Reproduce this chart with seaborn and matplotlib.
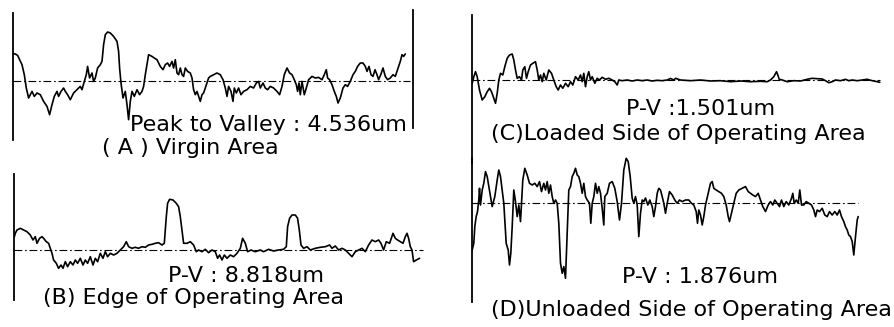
import matplotlib
matplotlib.use("Agg")
import matplotlib.pyplot as plt
import seaborn as sns
import pandas as pd

# ---------------- data (profile position, height) ----------------
a_pos = [0, 2, 4.3, 8.7, 11, 13, 15.3, 17, 18.7, 21, 23.7, 27, 30.3, 33.7, 36.3, 38.7, 41, 43.7, 45.3, 47.7,
         50.3, 52, 54.3, 57, 60.3, 63.7, 67, 68.7, 71, 73, 74.3, 76.3, 78.7, 80.3, 82, 84.3, 87, 88.7, 90.3, 92,
         94.3, 97, 100.3, 103.7, 105.3, 106.3, 107.7, 109.7, 112, 113.7, 115.3, 117, 118.7, 121, 123.7, 126.3,
         128.7, 130.3, 132, 133.7, 135.3, 138.7, 141, 143.7, 147, 149.7, 152, 154.3, 156.3, 158.7, 160.3, 162,
         163.7, 165.3, 167, 168.7, 170.3, 172, 174.3, 177, 178.7, 180.3, 182, 183.7, 185.3, 187, 188.7, 190.3,
         193.7, 195.3, 197, 200.3, 203.7, 207, 209.7, 212, 213.7, 215.3, 217.7, 219.7, 221, 223, 225.3, 227.7,
         230.3, 233.7, 237, 240.3, 243, 245.3, 247, 249.7, 252, 254.3, 257, 260.3, 263.7, 266.3, 268.7, 271,
         273.7, 276.3, 278.7, 281, 283, 284.3, 285.7, 287, 288.7, 291, 293, 295.3, 298.7, 302, 305.3, 308.7,
         311, 313, 314.3, 316.3, 318.7, 321, 323, 324.7, 327, 329.7, 332, 334.3, 337, 339.7, 342, 344.3, 347,
         349.7, 352, 353.7, 355.7, 357.7, 359.7, 361.7, 363.7, 365.3, 367.7, 369.7, 372, 374.3, 377, 379.7,
         382, 383.7, 385.3, 387, 388.7, 390.3, 392]
a_height = [27, 26.7, 25.3, 16, 6, -7.3, -17.3, -14, -10.7, -15.7, -12.3, -14, -20.7, -25.7, -34, -24, -15.7,
            -10.7, -15.7, -10.7, -7.3, -10.7, -14, -19, -12.3, -9, -5.7, -9, -0.7, 6, 14.3, 2.7, 7.7, -0.7, 2.7,
            12.7, 16, 19.3, 36, 46, 48.7, 47.7, 44.3, 39.3, 29.3, 12.7, -2.3, -17.3, -10.7, -24, -39, -20.7,
            -10.7, -15.7, -9, -14, -10.7, -5.7, 6, 16, 26, 24.3, 22.7, 21, 14.3, 11, 16, 17.7, 14.3, 19.3, 12.7,
            21, 7.7, 6, 12.7, 6, 4.3, 12.7, 9.3, 7.7, 2.7, -9, -14, -10.7, -15.7, -20.7, -14, -12.3, -2.3, 2.7,
            4.3, 6, 7.7, 6, 1, -7.3, -15.7, -5.7, -10.7, -20.7, -7.3, -12.3, -7.3, -14, -10.7, -9, -5.7, -7.3,
            -2.3, -0.7, -7.3, -2.3, -7.3, -9, -5.7, -7.3, -10.7, -14, -5.7, 6, 12.7, 7.7, 6, 1, -4, -10.7, -2.3,
            -14, -0.7, -14, -7.3, 1, 4.3, 2.7, 3.3, 1, 6, 11, 2.7, 1, -4, -10.7, -15.7, -22.3, -17.3, -7.3, -4,
            -5.7, -0.7, 6, 9.3, 14.3, 17.7, 17.7, 14.3, 9.3, 14.3, 6, 4.3, 11, 6, 1, 6.7, 12.7, 4.3, 1, 2.7, 6,
            4.3, 9.3, 14.3, 19.3, 26, 24.3, 26.7]

b_pos = [0, 1, 2.7, 6, 9.3, 12.7, 16, 18.7, 21, 22.7, 25.3, 27.7, 29.3, 32, 34.3, 36, 37.7, 39.3, 42, 44.3,
         46.7, 48.7, 51, 53.3, 56, 58.7, 61, 63.3, 66, 68.7, 71, 73.3, 76, 78.7, 81, 83.3, 86, 88.7, 91, 93.3,
         96, 99.3, 102.7, 106, 109.3, 112, 114.3, 117.7, 121, 124.3, 127.7, 131, 134.3, 137.7, 141, 144.3,
         147.7, 150, 152, 153.3, 155.3, 158.7, 162, 164.3, 166, 167.7, 169.3, 172.7, 176, 179.3, 182, 184.3,
         187.7, 191, 194.3, 197.7, 201, 203.3, 205.3, 207.7, 210, 212.7, 216, 219.3, 222.7, 226, 228.3, 231,
         233.3, 236.7, 241, 246, 249.3, 254.3, 259.3, 264.3, 269.3, 272, 273.3, 275.3, 277.7, 281, 283.3, 285,
         286.7, 289.3, 292.7, 296, 301, 306, 311, 315.3, 317.7, 321, 324.3, 327.7, 331, 334.3, 337.7, 341,
         344.3, 347.7, 351, 354.3, 357.7, 361, 364.3, 366.7, 369.3, 372, 375.3, 378.7, 381, 383.3, 386, 388.7,
         391, 392.7, 394.3, 396, 397.7, 399.3, 402, 405.3]
b_height = [13, 16.7, 20, 21.7, 20, 18.3, 15, 10, 13.3, 6.7, 11.7, 13.3, 11.7, 8.3, 6.7, 1.7, -3.3, -10, -13.3,
            -18.3, -15, -18.3, -11.7, -16.7, -11.7, -15, -10, -13.3, -8.3, -15, -10, -13.3, -6.7, -15, -8.3,
            -11.7, -3.3, -8.3, -1.7, -6.7, -3.3, -5, -3.3, 0, 3.3, 8.3, 3.3, 1.7, 2.7, 1.7, 3.3, 2.7, 5, 5.7,
            6.7, 7.3, 5, 6.7, 33.3, 46.7, 50.7, 50, 46.7, 43.3, 33.3, 20, 6.7, 6.7, 8.3, 5, -1.7, 0, -1.7, 0.7,
            -2.7, 0, -1.7, -8.3, -5, -10, -5, -8.3, -5, -6.7, -3.3, 1.7, 11.7, 6.7, -1.7, 0, -1.7, 0, -1.7, 0.7,
            -1, 0, 0.7, 3.3, 23.3, 31.7, 35, 35, 31.7, 20, 5, 1.7, 3.3, 0, 1.7, 2.7, 3.3, 5, 1.7, 4, 0, 1.7, 0,
            -3.3, -6.7, -1.7, 0, 1.7, -1.7, 5, 10, 8.3, 10, 6.7, 0, 8.3, 6.7, 16.7, 11.7, 10, 8.3, 6.7, 13.3,
            16.7, 11.7, 3.3, 0, -11.7, -10, -8.3]

c_pos = [0, 0.7, 2.3, 4, 5.7, 8, 10.7, 13.3, 15.7, 18, 20, 22.3, 24, 25.7, 27.3, 29, 31.3, 33.3, 35.7, 38, 40.7,
         42.3, 44, 45.7, 48, 50, 51.3, 53.3, 55, 56.7, 59, 61.3, 64, 65.7, 67.3, 69, 70.7, 72.3, 74.7, 77.3,
         80, 82.3, 84.7, 86.7, 89, 91.3, 94, 96.7, 99, 101.3, 104, 106.7, 109, 110.7, 112.3, 114, 115.7,
         117.3, 119, 120.7, 123.3, 125.7, 128, 130.7, 134, 137.3, 140.7, 143.3, 145.7, 147.3, 150.7, 155.7,
         160.7, 165.7, 170.7, 175.7, 180.7, 185.7, 190.7, 195.7, 199, 202.3, 204, 209, 219, 229, 239, 249,
         259, 269, 279, 289, 295.7, 299, 302.3, 305, 306.3, 307.7, 310.7, 315.7, 322.3, 329, 335.7, 340.7,
         345.7, 350.7, 354, 357.3, 360.7, 364, 369, 374, 377.3, 380.7, 385.7, 390.7, 395.7, 400.7, 405.7, 408.3]
c_height = [-3, -3.3, 3.3, 8.3, 3.3, -10, -20, -16.7, -11.7, -8.3, -11.7, -18.3, -23.3, -13.3, 0, 6.7, 5, 13.3,
            21.7, 25, 26, 20, 10, 1.7, 3.3, 0, 10, 13.3, 1.7, 8.3, 15, 16.7, 18.3, 10, 0, 5, -1.7, 6.7, 0, 10,
            6.7, 0, -6.7, -10, -5, -8.3, -3.3, -6.7, -1.7, -5, 3.3, 0, 5, -1.7, 6.7, -6.7, 3.3, 8.3, 0, 3.3,
            -3.3, 1.7, 0, 2.7, 0.7, 1.7, 0, -1.7, -5, 0, -0.7, 0, -1, 0, -0.7, 0, -1, -0.3, -0.7, 0, 1.5, 0,
            1.7, 0, -0.7, 0, -1, -0.7, -1.7, -1, -1.7, -1.3, -1.7, 0, 3.3, 8.3, 5, 0.7, 0, -1.7, -0.7, -1, 0.7,
            1.7, 1.3, 1, -0.7, -2.7, -1.7, 0, -0.7, 0.7, -0.7, 0, -0.7, 0, 0.7, -0.7, -1.7, -2.3]

d_pos = [0, 0.7, 2.3, 3.3, 4.7, 6, 7.3, 8, 9, 10.7, 12.3, 14, 15.7, 17.3, 19, 20.7, 23.3, 25.7, 27.3, 29, 30.7,
         32.3, 33.3, 34.7, 36.7, 38, 39.3, 40.7, 42.3, 44, 45.7, 47.3, 49, 50, 51.3, 53.3, 55.7, 58, 60.7,
         63.3, 65.7, 68, 70, 72.3, 74, 75.7, 77.3, 79, 80.7, 82.3, 84, 85.7, 87.3, 89, 90.7, 92.3, 94, 95.7,
         97.3, 99, 100.7, 102.3, 104, 105.7, 107.3, 109, 110.7, 112.3, 114, 115.7, 118, 119.3, 120.7, 122.3,
         124, 125.7, 127.3, 129, 130.7, 132.3, 133.3, 135.7, 138, 140.7, 143.3, 145.7, 148, 150, 152.3, 154.7,
         156.7, 158.7, 160.7, 162.3, 164, 165.7, 167.3, 169, 170.7, 172.3, 174, 176.3, 178.3, 180.7, 182.3,
         184, 185.7, 187.3, 189, 190.7, 192.3, 194, 195.7, 198, 200.7, 203.3, 205.7, 208, 210.7, 214, 217.3,
         220, 222.3, 224.7, 226, 227.3, 229, 230.7, 232.3, 234, 236.7, 239, 240.7, 242.3, 244.7, 247.3, 250,
         252.3, 254.7, 256.7, 258, 260, 262.3, 264.7, 267.3, 270.7, 274, 276.7, 279, 281.3, 284, 286.7, 289,
         291.3, 294, 296.7, 299, 301.3, 303.3, 305.7, 308, 310, 312.3, 314.7, 317.3, 320, 321.3, 322.7, 324.7,
         326.7, 328.3, 330, 332.3, 334.7, 337.3, 340, 342.3, 344, 345.7, 348, 350.7, 353.3, 355.7, 358, 360.7,
         363.3, 365.7, 368, 370, 372.3, 374, 375.7, 377.3, 379, 380.7, 382.3, 384, 385.7, 386.7]
d_height = [-48, -46.7, -40, -23.3, -13.3, -8.3, 3.3, 15, -1.7, 13.3, 20, 31.7, 26.7, 16.7, 6.7, -3.3, 6.7,
            23.3, 33.3, 26.7, 13.3, 0, -16.7, -40, -46.7, -61.7, -50, -23.3, 13.3, 1.7, -13.3, -1.7, -18.3, 0,
            23.3, 35, 28.3, 20, 18.3, 20, 16.7, 21.7, 11.7, 20, 13.3, 21.7, 10, 18.3, 6.7, 0, 3.3, 0, -20, -60,
            -70, -63.3, -75, -30, 13.3, 16.7, 26.7, 30, 35, 28.3, 26.7, 20, 10, 20, 6.7, 3.3, 0, -20, 0, 6.7,
            20, 10, 16.7, 10, -5, -21.7, 6.7, 10, 20, 21.7, 15, 1.7, -16.7, 0, 33.3, 45, 41.7, 26.7, 5, 0, 6.7,
            -1.7, -33.3, -10, 3.3, 1.7, 5.3, -1.7, 3.3, -3.3, -13.3, -3.3, 10, 15, 13.3, 6.7, 0, -10, 0, 11.7,
            8.3, 3.3, 0, 3.3, 1.7, 3.3, 3.3, 0, -1.7, -8.3, -20, -6.7, -11.7, -21.7, -13.3, -1.7, 10, 20, 21.7,
            15, 13.3, 11.7, 10, 6.7, -1.7, -13.3, -18.3, -10, 0, 10, 13.3, 15, 16.7, 11.7, 10, 8.3, 6.7, 10,
            3.3, -3.3, -8.3, -1.7, 1.7, -1.7, 3.3, 0, -3.3, 3.3, -3.3, 1.7, -1.7, 5, 10, 0, 3.3, 0, 13.3, -1.7,
            -1.7, 1.7, 0, -1.7, -6.7, -13.3, -6.7, -8.3, -5, -11.7, -13.3, -8.3, -11.7, -8.3, -11.7, -6.7,
            -13.3, -18.3, -23.3, -26.7, -31.7, -33.3, -38.3, -51.7, -33.3, -16.7, -13.3]

pv_labels = ["Peak to Valley : 4.536um", "P-V : 8.818um", "P-V :1.501um", "P-V : 1.876um"]
titles = ["( A ) Virgin Area", "(B) Edge of Operating Area",
          "(C)Loaded Side of Operating Area", "(D)Unloaded Side of Operating Area"]

# ---------------- style ----------------
sns.set_style("white")
plt.rcParams['font.family'] = ['DejaVu Sans']

W, H = 894, 327
fig = plt.figure(figsize=(W / 100, H / 100), dpi=100)
fig.patch.set_facecolor("white")


def make_axes(x0, x1, y_top, y_bot, y_base):
    ax = fig.add_axes([x0 / W, 1 - y_bot / H, (x1 - x0) / W, (y_bot - y_top) / H])
    ax.set_xlim(0, x1 - x0)
    ax.set_ylim(y_base - y_bot, y_base - y_top)
    ax.patch.set_visible(False)
    ax.set_xticks([])
    ax.set_yticks([])
    for s in ("top", "bottom", "right"):
        ax.spines[s].set_visible(False)
    ax.spines["left"].set_color("black")
    ax.spines["left"].set_linewidth(1.3)
    return ax


panels = [
    dict(box=(13.3, 412.7, 5, 160, 80.7), spine=(-59.3, 67.7), base_end=397,
         data=(a_pos, a_height), pv=(394, -50.5, "right"), title=(177, -73.3)),
    dict(box=(14.3, 430, 165, 320, 250), spine=(-50, 76), base_end=409,
         data=(b_pos, b_height), pv=(232, -32, "center"), title=(179, -54.5)),
    dict(box=(471.5, 890, 5, 165, 80), spine=(-83, 65), base_end=409,
         data=(c_pos, c_height), pv=(229.5, -35, "center"), title=(207, -60)),
    dict(box=(471.5, 890, 150, 325, 203.3), spine=(-98.7, 45.3), base_end=387,
         data=(d_pos, d_height), pv=(229, -79.7, "center"), title=(219.5, -112.4)),
]

for i, p in enumerate(panels):
    ax = make_axes(*p["box"])
    ax.spines["left"].set_bounds(*p["spine"])
    width = p["box"][1] - p["box"][0]
    ax.axhline(0, xmin=0, xmax=p["base_end"] / width, color="black", lw=0.8,
               linestyle=(0, (7, 2.5, 1.5, 2.5)))
    df = pd.DataFrame({"pos": p["data"][0], "height": p["data"][1]})
    sns.lineplot(data=df, x="pos", y="height", ax=ax, color="black", linewidth=1.2,
                 sort=False, estimator=None)
    ax.set_xlabel("")
    ax.set_ylabel("")
    px, py, pha = p["pv"]
    ax.text(px, py, pv_labels[i], ha=pha, va="baseline", fontsize=16, color="black")
    ax.text(p["title"][0], p["title"][1], titles[i], ha="center", va="baseline", fontsize=16, color="black")
    if i == 0:
        ax.spines["right"].set_visible(True)
        ax.spines["right"].set_color("black")
        ax.spines["right"].set_linewidth(1.3)
        ax.spines["right"].set_bounds(-47.3, 70.7)

fig.savefig("out.png", dpi=100, facecolor="white")
